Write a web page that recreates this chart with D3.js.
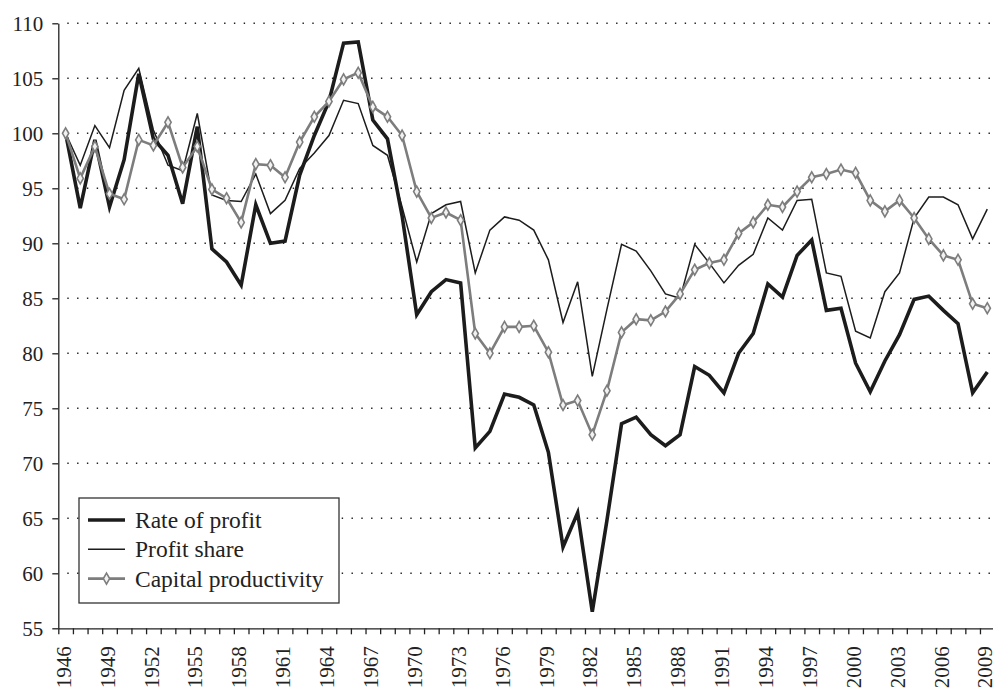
<!DOCTYPE html>
<html lang="en">
<head>
  <meta charset="UTF-8">
  <title>Rate of profit, profit share and capital productivity</title>
  <script src="https://d3js.org/d3.v7.min.js"></script>
  <style>
    body { margin: 0; background: #fff; }
    svg { display: block; }
    .axis path, .axis line { stroke: #222; stroke-width: 1.3; }
    .grid line { stroke: #222; stroke-width: 1.4; stroke-dasharray: 1.4 8.4; }
  </style>
</head>
<body>
<div id="chart"></div>
<script>
const years = d3.range(1946, 2010);

const rateOfProfit = [
  100, 93.2, 99.4, 93.3, 97.6, 105.4, 99.5, 98.0, 93.6, 100.6,
  89.5, 88.3, 86.2, 93.5, 90.0, 90.2, 96.2, 99.8, 102.9, 108.2,
  108.3, 101.2, 99.5, 92.5, 83.5, 85.6, 86.7, 86.4, 71.4, 72.9,
  76.3, 76.0, 75.3, 71.0, 62.4, 65.5, 56.5, 64.8, 73.6, 74.2,
  72.6, 71.6, 72.6, 78.8, 78.0, 76.4, 80.0, 81.8, 86.3, 85.1,
  88.9, 90.3, 83.9, 84.1, 79.1, 76.5, 79.3, 81.7, 84.9, 85.2,
  83.9, 82.7, 76.4, 78.3
];

const profitShare = [
  100, 97.1, 100.7, 98.7, 103.9, 105.9, 100.3, 97.1, 96.6, 101.8,
  94.4, 93.9, 93.8, 96.3, 92.7, 93.9, 96.8, 98.2, 99.8, 103.0,
  102.7, 98.9, 98.0, 93.3, 88.3, 92.7, 93.5, 93.8, 87.3, 91.2,
  92.4, 92.1, 91.2, 88.5, 82.8, 86.5, 77.9, 84.0, 89.9, 89.3,
  87.5, 85.4, 85.0, 89.9, 88.2, 86.4, 88.0, 89.0, 92.3, 91.2,
  93.9, 94.0, 87.3, 87.0, 82.0, 81.4, 85.6, 87.3, 92.3, 94.2,
  94.2, 93.5, 90.4, 93.1
];

const capitalProductivity = [
  100, 95.9, 98.8, 94.5, 94.0, 99.4, 98.9, 101.0, 96.9, 98.8,
  94.9, 94.1, 91.9, 97.2, 97.1, 96.0, 99.2, 101.5, 102.9, 104.9,
  105.5, 102.4, 101.5, 99.8, 94.7, 92.3, 92.8, 92.1, 81.8, 80.0,
  82.4, 82.4, 82.5, 80.1, 75.3, 75.7, 72.6, 76.6, 81.9, 83.1,
  83.0, 83.8, 85.4, 87.6, 88.2, 88.5, 90.9, 91.9, 93.5, 93.3,
  94.7, 96.0, 96.3, 96.7, 96.4, 93.9, 92.9, 93.9, 92.3, 90.4,
  88.9, 88.5, 84.5, 84.1
];

const yTicks = d3.range(55, 111, 5);
const xLabelYears = years.filter((d, i) => i % 3 === 0);

const series = [
  { name: "Rate of profit", values: rateOfProfit, color: "#1c1c1c", width: 3.6, marker: false },
  { name: "Profit share", values: profitShare, color: "#1c1c1c", width: 1.5, marker: false },
  { name: "Capital productivity", values: capitalProductivity, color: "#7d7d7d", width: 2.6, marker: true }
];

const width = 993, height = 692;
const plotLeft = 58.3, plotRight = 994.6, plotTop = 23.3, plotBottom = 628.3;

const svg = d3.select("#chart")
  .append("svg")
  .attr("width", width)
  .attr("height", height);

const x = d3.scaleBand()
  .domain(years)
  .range([plotLeft, plotRight])
  .padding(0);

const xEdge = d3.scaleLinear()
  .domain([1946, 2010])
  .range([plotLeft, plotRight]);

const y = d3.scaleLinear()
  .domain([55, 110])
  .range([plotBottom, plotTop]);

const xc = d => x(d) + x.bandwidth() / 2;

// dotted horizontal gridlines
svg.append("g")
  .attr("class", "grid")
  .selectAll("line")
  .data(yTicks.filter(d => d > 55))
  .enter()
  .append("line")
  .attr("x1", plotLeft + 9)
  .attr("x2", width)
  .attr("y1", d => y(d))
  .attr("y2", d => y(d));

// y axis
svg.append("g")
  .attr("class", "axis")
  .attr("transform", `translate(${plotLeft},0)`)
  .call(d3.axisLeft(y).tickValues(yTicks).tickSize(6).tickSizeOuter(0).tickPadding(9))
  .call(g => g.selectAll("text").attr("dy", "0.34em"));

// x axis: ticks at year boundaries
svg.append("g")
  .attr("class", "axis")
  .attr("transform", `translate(0,${plotBottom})`)
  .call(d3.axisBottom(xEdge).tickValues(d3.range(1946, 2011)).tickFormat("").tickSize(6).tickSizeOuter(0));

svg.append("g")
  .attr("class", "axis")
  .selectAll("text")
  .data(xLabelYears)
  .enter()
  .append("text")
  .attr("transform", d => `translate(${xc(d) - 2},${plotBottom + 18}) rotate(-90)`)
  .attr("text-anchor", "end")
  .attr("dy", "0.34em")
  .text(d => d);

const line = d3.line()
  .x((v, i) => xc(years[i]))
  .y(v => y(v));

const diamond = d3.symbol().type(d3.symbolDiamond).size(34);

series.forEach(s => {
  svg.append("path")
    .datum(s.values)
    .attr("fill", "none")
    .attr("stroke", s.color)
    .attr("stroke-width", s.width)
    .attr("stroke-linejoin", "miter")
    .attr("d", line);

  if (s.marker) {
    svg.append("g")
      .selectAll("path")
      .data(s.values)
      .enter()
      .append("path")
      .attr("transform", (v, i) => `translate(${xc(years[i])},${y(v)})`)
      .attr("d", diamond)
      .attr("fill", "#f2f2f2")
      .attr("stroke", s.color)
      .attr("stroke-width", 1.6);
  }
});

// serif font for axis labels
svg.selectAll("text")
  .style("font-family", "\"Liberation Serif\"")
  .style("font-size", "21px")
  .style("fill", "#222");

// legend
const legend = svg.append("g").attr("class", "legend");

legend.append("rect")
  .attr("x", 79)
  .attr("y", 498)
  .attr("width", 260)
  .attr("height", 105)
  .attr("fill", "#fff")
  .attr("stroke", "#333")
  .attr("stroke-width", 1.3);

series.forEach((s, i) => {
  const ly = 520 + i * 29.3;
  legend.append("line")
    .attr("x1", 88)
    .attr("x2", 125)
    .attr("y1", ly)
    .attr("y2", ly)
    .attr("stroke", s.color)
    .attr("stroke-width", s.width);
  if (s.marker) {
    legend.append("path")
      .attr("transform", `translate(106.5,${ly})`)
      .attr("d", diamond)
      .attr("fill", "#f2f2f2")
      .attr("stroke", s.color)
      .attr("stroke-width", 1.6);
  }
  legend.append("text")
    .attr("x", 135)
    .attr("y", ly)
    .attr("dy", "0.34em")
    .style("font-family", "\"Liberation Serif\"")
    .style("font-size", "23.5px")
    .style("fill", "#222")
    .text(s.name);
});
</script>
</body>
</html>
